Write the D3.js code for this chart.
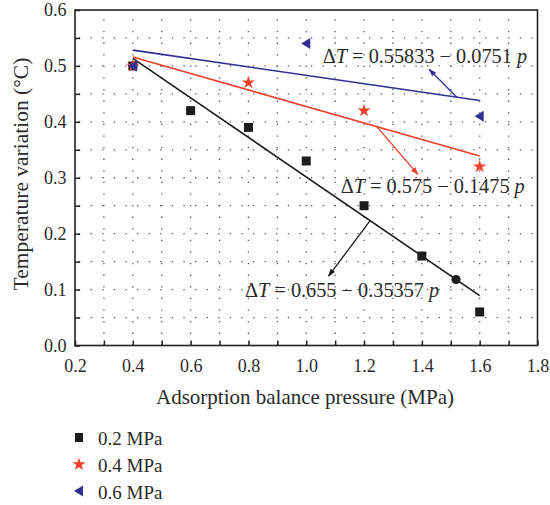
<!DOCTYPE html>
<html>
<head>
<meta charset="utf-8">
<script src="https://cdn.jsdelivr.net/npm/d3@7"></script>
<style>
  body { margin: 0; background: #fff; }
  svg text { font-family: "Liberation Serif", "DejaVu Serif", serif; fill: #2a2a2a; }
</style>
</head>
<body>
<svg id="chart" width="550" height="505"></svg>
<script>
// data
const seriesNames = ['0.2 MPa', '0.4 MPa', '0.6 MPa'];
const colors = ['#1c1c1c', '#f0402a', '#322e92'];
const p02 = [0.4, 0.6, 0.8, 1.0, 1.2, 1.4, 1.6];
const t02 = [0.50, 0.42, 0.39, 0.33, 0.25, 0.16, 0.06];
const p04 = [0.4, 0.8, 1.2, 1.6];
const t04 = [0.50, 0.47, 0.42, 0.32];
const p06 = [0.4, 1.0, 1.6];
const t06 = [0.50, 0.54, 0.41];
// fitted lines dT = a - b p
const fitA = [0.655, 0.575, 0.55833];
const fitB = [0.35357, 0.1475, 0.0751];
const fitRange = [0.4, 1.6];
const fitLabels = ['0.655 \u2212 0.35357', '0.575 \u2212 0.1475', '0.55833 \u2212 0.0751'];
// annotation arrows: start on fit line (p), end point (p, T), label anchor (p, T)
const arrowStartP = [1.221, 1.244, 1.521];
const arrowEnd = [[1.077, 0.124], [1.386, 0.306], [1.425, 0.494]];
const labelPos = [[0.788, 0.087], [1.119, 0.272], [1.057, 0.505]];
const circlePoint = [1.518, 0.118];
const xTicks = [0.2, 0.4, 0.6, 0.8, 1.0, 1.2, 1.4, 1.6, 1.8];
const yTicks = [0.0, 0.1, 0.2, 0.3, 0.4, 0.5, 0.6];

const svg = d3.select('#chart');
const mLeft = 75, mRight = 537.5, mTop = 10, mBottom = 345.5;
const x = d3.scaleLinear().domain([0.2, 1.8]).range([mLeft, mRight]);
const y = d3.scaleLinear().domain([0, 0.6]).range([mBottom, mTop]);

// dotted grid
const gridX = d3.range(0.3, 1.75, 0.1);
const gridY = d3.range(0.05, 0.59, 0.05);
svg.append('g').selectAll('line').data(gridX).join('line')
    .attr('x1', d => x(d)).attr('x2', d => x(d))
    .attr('y1', mBottom).attr('y2', mTop)
    .attr('stroke', '#555').attr('stroke-width', 1.3)
    .attr('stroke-dasharray', '1.3,10.3');
svg.append('g').selectAll('line').data(gridY).join('line')
    .attr('x1', mLeft).attr('x2', mRight)
    .attr('y1', d => y(d)).attr('y2', d => y(d))
    .attr('stroke', '#555').attr('stroke-width', 1.3)
    .attr('stroke-dasharray', '1.3,10.3')
    .attr('stroke-dashoffset', -4);

// axes
let xaxis = d3.axisBottom(x).tickValues(d3.range(0.2, 1.81, 0.1)).tickSizeInner(-5).tickSizeOuter(0)
    .tickFormat(d => xTicks.some(t => Math.abs(t - d) < 1e-6) ? d3.format('.1f')(d) : '');
let yaxis = d3.axisLeft(y).tickValues(d3.range(0, 0.61, 0.05)).tickSizeInner(-5).tickSizeOuter(0)
    .tickFormat(d => yTicks.some(t => Math.abs(t - d) < 1e-6) ? d3.format('.1f')(d) : '');
let gx = svg.append('g').attr('transform', 'translate(0,' + mBottom + ')').call(xaxis);
let gy = svg.append('g').attr('transform', 'translate(' + mLeft + ',0)').call(yaxis);
[gx, gy].forEach(g => {
    g.select('.domain').remove();
    g.selectAll('line').attr('stroke', '#222').attr('stroke-width', 1.5);
    g.selectAll('text').style('font-size', '18px').style('font-family', '"Liberation Serif", serif').attr('fill', '#2a2a2a');
});
gx.selectAll('text').attr('dy', '1.33em');
gy.selectAll('text').attr('x', -8.5);
svg.append('rect').attr('x', mLeft).attr('y', mTop).attr('width', mRight - mLeft).attr('height', mBottom - mTop)
    .attr('fill', 'none').attr('stroke', '#222').attr('stroke-width', 1.6);

// axis titles
svg.append('text').attr('x', 305).attr('y', 404).attr('text-anchor', 'middle')
    .style('font-size', '21px').text('Adsorption balance pressure (MPa)');
svg.append('text').attr('transform', 'translate(28,174) rotate(-90)')
    .attr('text-anchor', 'middle').style('font-size', '21.5px').text('Temperature variation (\u00B0C)');

// arrow markers
const defs = svg.append('defs');
colors.forEach((c, i) => {
    defs.append('marker').attr('id', 'arr' + i).attr('viewBox', '0 0 10 10')
        .attr('refX', 9).attr('refY', 5).attr('markerWidth', 11).attr('markerHeight', 8)
        .attr('markerUnits', 'userSpaceOnUse').attr('orient', 'auto')
        .append('path').attr('d', 'M0,1.5 L10,5 L0,8.5 Z').attr('fill', c);
});

// fit lines
const line = d3.line().x(d => x(d[0])).y(d => y(d[1]));
fitA.forEach((a, i) => {
    let pts = fitRange.map(p => [p, a - fitB[i] * p]);
    svg.append('path').datum(pts).attr('d', line).attr('fill', 'none')
        .attr('stroke', colors[i]).attr('stroke-width', 1.6);
});

// arrows and equations
fitA.forEach((a, i) => {
    let sp = arrowStartP[i];
    svg.append('line')
        .attr('x1', x(sp)).attr('y1', y(a - fitB[i] * sp))
        .attr('x2', x(arrowEnd[i][0])).attr('y2', y(arrowEnd[i][1]))
        .attr('stroke', colors[i]).attr('stroke-width', 1.3)
        .attr('marker-end', 'url(#arr' + i + ')');
    let t = svg.append('text').attr('x', x(labelPos[i][0])).attr('y', y(labelPos[i][1]))
        .style('font-size', '20.3px');
    t.append('tspan').text('\u0394');
    t.append('tspan').style('font-style', 'italic').text('T');
    t.append('tspan').text(' = ' + fitLabels[i] + ' ');
    t.append('tspan').style('font-style', 'italic').text('p');
});

// markers
const tri = 'M-5,0 L4,-5.5 L4,5.5 Z';
svg.append('g').selectAll('rect').data(p02.map((p, i) => [p, t02[i]])).join('rect')
    .attr('x', d => x(d[0]) - 4.5).attr('y', d => y(d[1]) - 4.5)
    .attr('width', 9).attr('height', 9).attr('fill', colors[0]);
svg.append('circle').attr('cx', x(circlePoint[0])).attr('cy', y(circlePoint[1])).attr('r', 4.6).attr('fill', colors[0]);
svg.append('g').selectAll('path').data(p04.map((p, i) => [p, t04[i]])).join('path')
    .attr('d', d3.symbol(d3.symbolStar, 54))
    .attr('transform', d => 'translate(' + x(d[0]) + ',' + y(d[1]) + ')')
    .attr('fill', colors[1]);
svg.append('g').selectAll('path').data(p06.map((p, i) => [p, t06[i]])).join('path')
    .attr('d', tri)
    .attr('transform', d => 'translate(' + x(d[0]) + ',' + y(d[1]) + ')')
    .attr('fill', colors[2]);

// legend
const legendY = [437.5, 464.5, 491];
const legend = svg.append('g').attr('transform', 'translate(79,0)');
seriesNames.forEach((n, i) => {
    let g = legend.append('g').attr('transform', 'translate(0,' + legendY[i] + ')');
    if (i == 0) g.append('rect').attr('x', -4).attr('y', -4.5).attr('width', 8).attr('height', 9).attr('fill', colors[0]);
    else if (i == 1) g.append('path').attr('d', d3.symbol(d3.symbolStar, 54)).attr('fill', colors[1]);
    else g.append('path').attr('d', 'M-5,0 L4,-5.5 L4,5.5 Z').attr('fill', colors[2]);
    g.append('text').attr('x', 19).attr('y', 7.5).style('font-size', '19px').text(n);
});
</script>
</body>
</html>
